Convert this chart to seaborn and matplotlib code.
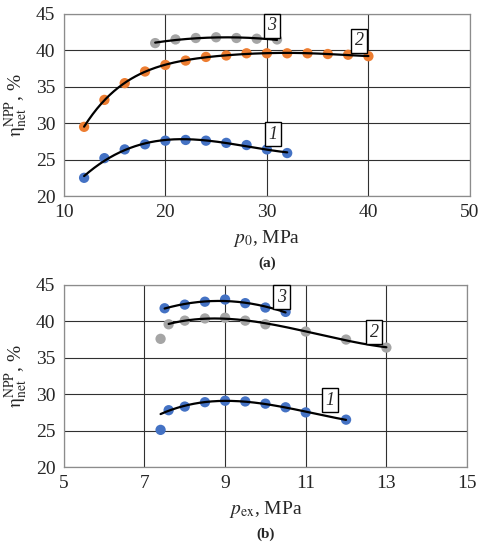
import numpy as np
import pandas as pd
import matplotlib
matplotlib.use("Agg")
import matplotlib.pyplot as plt
import seaborn as sns

# panel (a): efficiency vs p0
p0_1 = [12, 14, 16, 18, 20, 22, 24, 26, 28, 30, 32]
eta_a1 = [22.5, 25.2, 26.4, 27.1, 27.6, 27.7, 27.6, 27.3, 27.0, 26.4, 25.9]
p0_2 = [12, 14, 16, 18, 20, 22, 24, 26, 28, 30, 32, 34, 36, 38, 40]
eta_a2 = [29.5, 33.2, 35.5, 37.1, 38.0, 38.6, 39.1, 39.3, 39.6, 39.6, 39.6, 39.6, 39.5, 39.4, 39.2]
p0_3 = [19, 21, 23, 25, 27, 29, 31]
eta_a3 = [41.0, 41.5, 41.7, 41.8, 41.7, 41.6, 41.5]

# panel (b): efficiency vs pex
pex_1 = [7.4, 7.6, 8.0, 8.5, 9.0, 9.5, 10.0, 10.5, 11.0, 12.0]
eta_b1 = [25.1, 27.8, 28.3, 28.9, 29.1, 29.0, 28.7, 28.2, 27.5, 26.5]
pex_2 = [7.4, 7.6, 8.0, 8.5, 9.0, 9.5, 10.0, 11.0, 12.0, 13.0]
eta_b2 = [37.6, 39.6, 40.1, 40.4, 40.5, 40.1, 39.6, 38.6, 37.5, 36.4]
pex_3 = [7.5, 8.0, 8.5, 9.0, 9.5, 10.0, 10.5]
eta_b3 = [41.8, 42.3, 42.7, 43.0, 42.5, 41.9, 41.3]

BLUE = "#4472C4"
ORANGE = "#ED7D31"
GREY = "#A5A5A5"

sns.set_style("white")
plt.rcParams["font.family"] = ["Liberation Serif", "DejaVu Serif"]
plt.rcParams["mathtext.fontset"] = "stix"


def trend(ax, x, y, deg, x0=None, x1=None, skip=0):
    # polynomial trendline like the spreadsheet one
    xs = np.array(x[skip:], dtype=float)
    ys = np.array(y[skip:], dtype=float)
    c = np.polyfit(xs, ys, deg)
    lo = x[0] if x0 is None else x0
    hi = x[-1] if x1 is None else x1
    xx = np.linspace(lo, hi, 200)
    df = pd.DataFrame({"x": xx, "y": np.polyval(c, xx)})
    sns.lineplot(data=df, x="x", y="y", ax=ax, color="black", lw=1.6, zorder=3)


def points(ax, x, y, color):
    sns.scatterplot(x=x, y=y, ax=ax, color=color, s=55, edgecolor="none", zorder=2)


def box_label(ax, x, y, s):
    ax.text(x, y, s, fontsize=13, style="italic", ha="center", va="center",
            bbox=dict(boxstyle="square,pad=0.2", fc="white", ec="black", lw=1.0),
            zorder=5)


def style(ax, xticks, xlabel, tag):
    ax.set_ylim(20, 45)
    ax.set_yticks([20, 25, 30, 35, 40, 45])
    ax.set_xticks(xticks)
    ax.set_xlim(xticks[0], xticks[-1])
    ax.grid(True, color="#303030", lw=0.8)
    for sp in ax.spines.values():
        sp.set_color("#8c8c8c")
        sp.set_linewidth(0.9)
    ax.tick_params(labelsize=14, length=0, pad=6)
    ax.set_xlabel(xlabel, fontsize=14, labelpad=5)
    ax.set_ylabel(r"$\mathrm{\eta}_{\rm net}^{\rm NPP}$, %", fontsize=14, labelpad=4)
    ax.text(0.5, -0.37, tag, transform=ax.transAxes, ha="center", va="center",
            fontsize=11, fontweight="bold")


fig = plt.figure(figsize=(4.87, 5.5), dpi=100)
ax1 = fig.add_axes([0.131, 0.6436, 0.834, 0.331])
ax2 = fig.add_axes([0.131, 0.1509, 0.828, 0.331])

points(ax1, p0_1, eta_a1, BLUE)
points(ax1, p0_2, eta_a2, ORANGE)
points(ax1, p0_3, eta_a3, GREY)
trend(ax1, p0_1, eta_a1, 3)
trend(ax1, p0_2, eta_a2, 5)
trend(ax1, p0_3, eta_a3, 2)
style(ax1, [10, 20, 30, 40, 50], r"$p_0$, MPa", "(a)")
box_label(ax1, 30.5, 43.4, "3")
box_label(ax1, 39.1, 41.3, "2")
box_label(ax1, 30.6, 28.5, "1")

points(ax2, pex_1, eta_b1, BLUE)
points(ax2, pex_2, eta_b2, GREY)
points(ax2, pex_3, eta_b3, BLUE)
trend(ax2, pex_1, eta_b1, 3, x0=7.4, skip=1)
trend(ax2, pex_2, eta_b2, 3, x0=7.6, skip=1)
trend(ax2, pex_3, eta_b3, 2)
style(ax2, [5, 7, 9, 11, 13, 15], r"$p_{\rm ex}$, MPa", "(b)")
box_label(ax2, 10.4, 43.3, "3")
box_label(ax2, 12.7, 38.5, "2")
box_label(ax2, 11.6, 29.2, "1")

fig.savefig("out.png", dpi=100)
